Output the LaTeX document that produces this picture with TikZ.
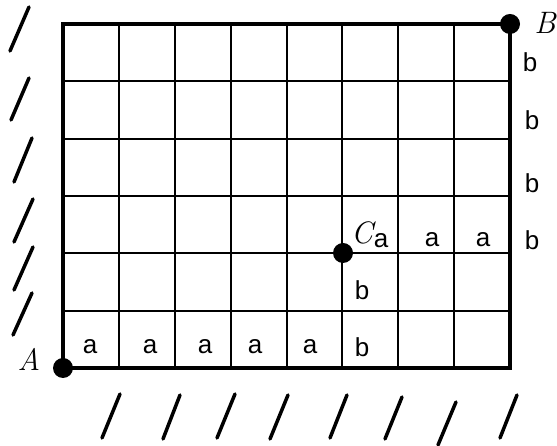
\documentclass[tikz,border=0pt]{standalone}
\usepackage{fontspec}
\newfontfamily\cellfont{Liberation Sans}
\begin{document}
\begin{tikzpicture}[x=1pt,y=1pt]
\tikzstyle{dot} = [circle,fill,inner sep=0pt,minimum size=20pt];
\tikzstyle{letter} = [font=\fontsize{26}{30}\cellfont,inner sep=0pt];
\tikzstyle{corner} = [font=\fontsize{31}{36}\selectfont\itshape,inner sep=0pt];
\tikzstyle{hatch} = [line width=3.5pt,line cap=round];

\useasboundingbox (0,0) rectangle (557,446);

% the lattice
\draw [line width=2pt,shift={(63,78)}] (0,0) grid [xstep=55.875,ystep=57.333] (447,344);
\coordinate (p1) at (63,78);
\coordinate (p2) at (510,422);
\draw [line width=3.5pt] (p1) rectangle (p2);

\node [dot] (A) at (p1) {};
\node [dot] (B) at (p2) {};
\node [dot] (C) at (343,193) {};
\node [corner] (nA) at (29,87) {A};
\node [corner] (nB) at (545,423) {B};
\node [corner] (nC) at (362,213) {C};
\node [letter] (c1) at (381,205) {a};

% bottom row
\node [letter] (r1) at (90,99) {a};
\node [letter] (r2) at (150,99) {a};
\node [letter] (r3) at (205,99) {a};
\node [letter] (r4) at (255,99) {a};
\node [letter] (r5) at (310,99) {a};
\node [letter] (r6) at (362,99) {b};
\node [letter] (r7) at (362,156) {b};
\node [letter] (r8) at (432,206) {a};
\node [letter] (r9) at (483,206) {a};
% right side
\node [letter] (s1) at (532,206) {b};
\node [letter] (s2) at (532,263) {b};
\node [letter] (s3) at (532,326) {b};
\node [letter] (s4) at (530,384) {b};

% hatching left
\draw [hatch] (10,395) -- (29,439);
\draw [hatch] (11,326) -- (29,368);
\draw [hatch] (14,264) -- (32,308);
\draw [hatch] (14,204) -- (33,247);
\draw [hatch] (14,156) -- (33,199);
\draw [hatch] (13,111) -- (32,153);
% hatching bottom
\draw [hatch] (102,8) -- (120,52);
\draw [hatch] (163,7) -- (180,51);
\draw [hatch] (217,8) -- (235,52);
\draw [hatch] (270,7) -- (288,51);
\draw [hatch] (330,8) -- (347,51);
\draw [hatch] (385,7) -- (402,49);
\draw [hatch] (438,1) -- (456,44);
\draw [hatch] (500,8) -- (517,51);
\end{tikzpicture}
\end{document}
